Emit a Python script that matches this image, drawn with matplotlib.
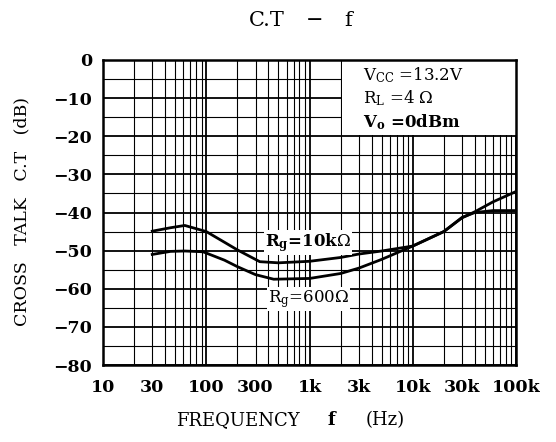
import matplotlib
matplotlib.use("Agg")
import matplotlib.pyplot as plt
from matplotlib.patches import Rectangle
from matplotlib.ticker import FixedLocator, LogLocator, NullFormatter, MultipleLocator

plt.rcParams['font.family'] = ['DejaVu Serif']
plt.rcParams['mathtext.fontset'] = 'dejavuserif'

# Data
freq_10k = [30, 45, 62, 100, 150, 200, 330, 500, 1000, 2000, 3000, 5000,
            10000, 20000, 30000, 40000, 60000, 100000]
ct_10k = [-44.9, -44.0, -43.4, -45.0, -47.8, -49.8, -52.9, -53.2, -52.8, -51.8,
          -50.9, -50.1, -48.8, -45.0, -41.3, -40.0, -39.5, -39.5]

freq_600 = [30, 45, 62, 93, 150, 200, 300, 450, 1000, 2000, 3000, 5000,
            10000, 20000, 30000, 40000, 60000, 100000]
ct_600 = [-51.0, -50.2, -50.1, -50.3, -52.5, -54.2, -56.3, -57.5, -57.3, -56.0,
          -54.6, -52.3, -48.8, -45.0, -41.4, -39.8, -37.2, -34.5]

xticks = [10, 30, 100, 300, 1000, 3000, 10000, 30000, 100000]
xticklabels = ['10', '30', '100', '300', '1k', '3k', '10k', '30k', '100k']
yticks = [0, -10, -20, -30, -40, -50, -60, -70, -80]

W, H = 556, 442
fig = plt.figure(figsize=(W / 100, H / 100), dpi=100)
ax = fig.add_axes([103 / W, 1 - 365 / H, (516 - 103) / W, (365 - 60) / H])

ax.plot(freq_10k, ct_10k, color='black', lw=2.0, zorder=3)
ax.plot(freq_600, ct_600, color='black', lw=2.0, zorder=3)

ax.set_xscale('log')
ax.set_xlim(10, 100000)
ax.set_ylim(-80, 0)
ax.xaxis.set_major_locator(FixedLocator([10, 100, 1000, 10000, 100000]))
ax.xaxis.set_major_formatter(NullFormatter())
ax.xaxis.set_minor_locator(LogLocator(base=10, subs=range(2, 10), numticks=20))
ax.xaxis.set_minor_formatter(NullFormatter())
ax.yaxis.set_major_locator(FixedLocator(yticks))
ax.yaxis.set_minor_locator(MultipleLocator(5))
ax.set_yticklabels(['0'] + ['\u2212%d' % abs(v) for v in yticks[1:]])

ax.grid(which='major', axis='both', color='black', lw=1.3)
ax.grid(which='minor', axis='both', color='black', lw=0.8)
ax.tick_params(which='both', length=0)
ax.tick_params(axis='y', labelsize=12.5, pad=8)
for lab in ax.get_yticklabels():
    lab.set_fontweight('bold')
for s in ax.spines.values():
    s.set_linewidth(1.8)

# x tick labels
for xv, xl in zip(xticks, xticklabels):
    ax.annotate(xl, xy=(xv, 0), xycoords=('data', 'axes fraction'),
                xytext=(0, -23 * 0.72), textcoords='offset points',
                ha='center', va='center', fontsize=12.5, fontweight='bold')

# white area for conditions box
ax.add_patch(Rectangle((2060, -19.7), 100000 - 2060, 19.7, facecolor='white',
                       edgecolor='none', zorder=2))
ax.text(3300, -5.2, r'V$_{\mathrm{CC}}$ =13.2V', fontsize=12, va='baseline', zorder=4)
ax.text(3300, -11.3, r'R$_{\mathrm{L}}$ =4 $\Omega$', fontsize=12, va='baseline', zorder=4)
ax.text(3300, -17.6, r'V$_{\mathbf{o}}$ =0dBm', fontsize=12, va='baseline',
        fontweight='bold', zorder=4)

ax.text(371, -48.8, r'R$_{\mathbf{g}}$=10k$\Omega$', fontsize=12, ha='left',
        va='baseline', fontweight='bold', zorder=4,
        bbox=dict(facecolor='white', edgecolor='none', pad=1))
ax.text(396, -63.5, r'R$_{\mathrm{g}}$=600$\Omega$', fontsize=12, ha='left',
        va='baseline', zorder=4,
        bbox=dict(facecolor='white', edgecolor='none', pad=1))

# axis labels
fig.text(22 / W, 1 - 211.5 / H, 'CROSS   TALK   C.T   (dB)', fontsize=12.5,
         rotation=90, ha='center', va='center')
fig.text(237.5 / W, 1 - 420 / H, 'FREQUENCY', fontsize=13, ha='center', va='center')
fig.text(331 / W, 1 - 420 / H, 'f', fontsize=13, fontweight='bold', ha='center', va='center')
fig.text(385 / W, 1 - 420 / H, '(Hz)', fontsize=13, ha='center', va='center')

# title
fig.text(249 / W, 1 - 21 / H, 'C.T', fontsize=15, ha='left', va='center')
fig.text(315 / W, 1 - 21 / H, '\u2212', fontsize=15, ha='center', va='center')
fig.text(344 / W, 1 - 21 / H, 'f', fontsize=15, ha='left', va='center')

fig.savefig('out.png', dpi=100)
